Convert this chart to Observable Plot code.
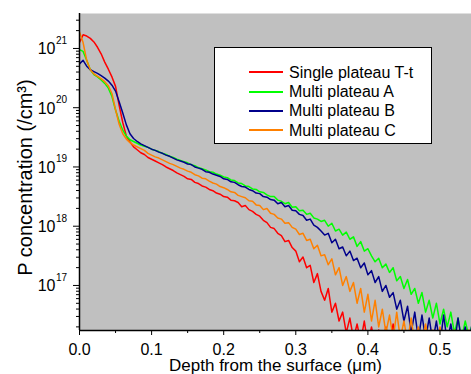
<!DOCTYPE html>
<html><head><meta charset="utf-8">
<script src="https://cdn.jsdelivr.net/npm/d3@7"></script>
<script src="https://cdn.jsdelivr.net/npm/@observablehq/plot@0.6"></script>
<style>
body{margin:0;background:#fff;}
#wrap{position:relative;width:471px;height:374px;font-family:"Liberation Sans",Arial,sans-serif;}
#legend{position:absolute;left:214px;top:47px;width:218px;height:97px;box-sizing:border-box;border:1px solid #000;background:#fff;padding-top:14.7px;}
.row{height:19.33px;line-height:19.33px;font-size:16px;display:flex;align-items:center;color:#000;}
.sw{margin-left:34px;width:34px;height:2px;margin-right:6px;flex:none;}
</style></head><body><div id="wrap"><div id="legend"></div></div>
<script>
// Depth (µm)
const depth = [
 0.000,0.005,0.010,0.015,0.020,0.025,0.030,0.035,0.040,0.045,
 0.050,0.055,0.060,0.065,0.070,0.075,0.080,0.085,0.090,0.095,
 0.100,0.105,0.110,0.115,0.120,0.125,0.130,0.135,0.140,0.145,
 0.150,0.155,0.160,0.165,0.170,0.175,0.180,0.185,0.190,0.195,
 0.200,0.205,0.210,0.215,0.220,0.225,0.230,0.235,0.240,0.245,
 0.250,0.255,0.260,0.265,0.270,0.275,0.280,0.285,0.290,0.295,
 0.300,0.305,0.310,0.315,0.320,0.325,0.330,0.335,0.340,0.345,
 0.350,0.355,0.360,0.365,0.370,0.375,0.380,0.385,0.390,0.395,
 0.400,0.405,0.410,0.415,0.420,0.425,0.430,0.435,0.440,0.445,
 0.450,0.455,0.460,0.465,0.470,0.475,0.480,0.485,0.490,0.495,
 0.500,0.505,0.510,0.515,0.520,0.525,0.530,0.535,0.540,0.545
];
// log10 of P concentration (/cm^3)
const singleTt = [
 21.10,21.23,21.21,21.17,21.11,21.02,20.91,20.77,20.65,20.52,
 20.36,20.04,19.75,19.52,19.42,19.34,19.29,19.24,19.21,19.16,
 19.13,19.10,19.07,19.04,19.00,18.97,18.94,18.90,18.87,18.84,
 18.80,18.79,18.74,18.72,18.68,18.66,18.62,18.60,18.56,18.54,
 18.50,18.49,18.44,18.43,18.40,18.33,18.35,18.28,18.25,18.20,
 18.17,18.10,18.06,17.98,17.96,17.88,17.84,17.74,17.76,17.64,
 17.58,17.40,17.48,17.30,17.34,17.05,17.20,16.90,16.75,16.95,
 16.55,16.70,16.40,16.55,16.20,16.45,16.10,16.35,16.05,16.40,
 16.00,16.30,16.00,16.25,16.00,16.30,16.00,16.35,16.00,null,
 null,null,null,null,null,null,null,null,null,null,
 null,null,null,null,null,null,null,null,null,null
];
const multiA = [
 20.98,20.95,20.80,20.64,20.56,20.52,20.47,20.41,20.33,20.19,
 19.96,19.77,19.62,19.52,19.46,19.43,19.40,19.37,19.35,19.33,
 19.30,19.28,19.26,19.23,19.21,19.18,19.16,19.13,19.11,19.09,
 19.07,19.04,19.02,18.99,18.97,18.95,18.92,18.91,18.88,18.86,
 18.83,18.82,18.78,18.77,18.73,18.72,18.68,18.67,18.63,18.62,
 18.58,18.57,18.53,18.50,18.50,18.44,18.42,18.38,18.40,18.32,
 18.33,18.26,18.27,18.20,18.22,18.14,18.12,18.08,18.10,18.00,
 18.05,17.92,17.95,17.85,17.90,17.78,17.82,17.66,17.74,17.58,
 17.62,17.50,17.40,17.46,17.30,17.36,17.22,17.30,17.08,17.15,
 16.95,17.10,16.85,16.95,16.70,16.88,16.55,16.75,16.45,16.70,
 16.35,16.60,16.30,16.55,16.20,16.45,16.10,16.40,16.15,16.35
];
const multiB = [
 20.74,20.80,20.70,20.64,20.61,20.58,20.54,20.50,20.45,20.38,
 20.28,20.10,19.91,19.71,19.56,19.48,19.43,19.39,19.36,19.33,
 19.30,19.28,19.25,19.23,19.20,19.18,19.15,19.12,19.10,19.08,
 19.05,19.04,19.00,18.98,18.96,18.92,18.91,18.88,18.86,18.84,
 18.80,18.79,18.75,18.74,18.70,18.67,18.66,18.62,18.60,18.56,
 18.55,18.50,18.49,18.45,18.44,18.38,18.40,18.33,18.35,18.27,
 18.26,18.20,18.18,18.10,18.12,18.02,17.98,17.92,17.85,17.88,
 17.72,17.78,17.62,17.65,17.50,17.58,17.42,17.46,17.30,17.38,
 17.18,17.25,17.05,17.15,16.90,17.00,16.80,16.88,16.60,16.75,
 16.40,16.65,16.20,16.55,16.10,16.50,16.10,16.45,16.05,16.40,
 16.00,16.50,16.05,16.35,16.00,16.45,16.05,16.30,16.00,16.40
];
const multiC = [
 21.28,21.10,20.80,20.64,20.57,20.53,20.49,20.44,20.37,20.24,
 19.97,19.72,19.56,19.47,19.41,19.37,19.34,19.31,19.28,19.23,
 19.20,19.17,19.15,19.12,19.09,19.06,19.04,19.01,18.98,18.96,
 18.93,18.91,18.87,18.85,18.81,18.80,18.76,18.73,18.71,18.67,
 18.65,18.62,18.58,18.57,18.52,18.50,18.48,18.43,18.42,18.36,
 18.35,18.28,18.30,18.22,18.20,18.14,18.12,18.05,18.06,17.98,
 17.95,17.86,17.88,17.76,17.78,17.62,17.68,17.50,17.52,17.35,
 17.45,17.18,17.30,17.00,17.15,16.90,17.05,16.70,16.95,16.55,
 16.85,16.40,16.75,16.30,16.60,16.20,16.50,16.10,16.55,16.10,
 16.40,16.05,16.45,16.00,16.30,16.00,16.35,16.00,16.25,15.90,
 16.30,15.90,16.20,15.90,16.25,15.90,16.20,15.90,16.25,15.90
];
const seriesNames = ["Single plateau T-t","Multi plateau A","Multi plateau B","Multi plateau C"];
const seriesColors = ["#ff0000","#00ff00","#00008b","#ff8000"];
const seriesValues = [singleTt, multiA, multiB, multiC];

const xMajor = [0,0.1,0.2,0.3,0.4,0.5];
const xMinor = [0.05,0.15,0.25,0.35,0.45];
const yExponents = [17,18,19,20,21];
const xLabel = "Depth from the surface (\u03bcm)";
const yLabel = "P concentration (/cm\u00b3)";

const yDomain = [10**16.24, 10**21.59];
const yMajor = yExponents.map(e => 10**e);
const yMinor = [];
for (let k = 16; k <= 21; k++) for (let m = 2; m <= 9; m++) {
  const v = m * 10**k; if (v >= yDomain[0] && v <= yDomain[1]) yMinor.push(v);
}

const lineMarks = seriesValues.map((vals, s) => Plot.line(
  depth.map((d, i) => ({depth: d, c: vals[i] == null ? NaN : 10**vals[i]})),
  {x: "depth", y: "c", stroke: seriesColors[s], strokeWidth: 1.5, clip: true}
));

const chart = Plot.plot({
  width: 471, height: 374,
  marginLeft: 79, marginRight: 0, marginTop: 13, marginBottom: 44,
  style: {fontFamily: '"Liberation Sans", Arial, sans-serif', background: "transparent", color: "black"},
  x: {domain: [0, 0.5437]},
  y: {type: "log", domain: yDomain},
  marks: [
    Plot.frame({fill: "#c0c0c0", stroke: "none"}),
    ...lineMarks,
    Plot.axisX({ticks: xMajor, tickSize: 5, tickPadding: 8, tickFormat: d3.format(".1f"), fontSize: 16, label: null}),
    Plot.axisX({ticks: xMinor, tickSize: 3, tickFormat: () => "", label: null}),
    Plot.axisY({ticks: yMajor, tickSize: 6, tickFormat: () => "", label: null}),
    Plot.axisY({ticks: yMinor, tickSize: 3, tickFormat: () => "", label: null}),
    Plot.ruleX([0], {strokeWidth: 1.5}),
    Plot.ruleY([yDomain[0]], {strokeWidth: 1.5}),
    Plot.text(yExponents, {y: e => 10**e, text: () => "10", frameAnchor: "left", textAnchor: "end", lineAnchor: "bottom", dx: -24, dy: 6, fontSize: 16}),
    Plot.text(yExponents, {y: e => 10**e, text: e => String(e), frameAnchor: "left", textAnchor: "start", lineAnchor: "bottom", dx: -23.5, dy: -4.7, fontSize: 10}),
    Plot.text([xLabel], {frameAnchor: "bottom", textAnchor: "middle", lineAnchor: "bottom", dy: 40.7, fontSize: 17}),
    Plot.text([yLabel], {frameAnchor: "left", textAnchor: "middle", rotate: -90, lineAnchor: "bottom", dx: -48, dy: 5.5, fontSize: 20})
  ]
});
const wrap = document.getElementById("wrap");
wrap.insertBefore(chart, wrap.firstChild);

const legend = document.getElementById("legend");
seriesNames.forEach((n, i) => {
  const row = document.createElement("div");
  row.className = "row";
  const sw = document.createElement("span");
  sw.className = "sw"; sw.style.background = seriesColors[i];
  const t = document.createElement("span");
  t.textContent = n;
  row.appendChild(sw); row.appendChild(t);
  legend.appendChild(row);
});
</script>
</body></html>
